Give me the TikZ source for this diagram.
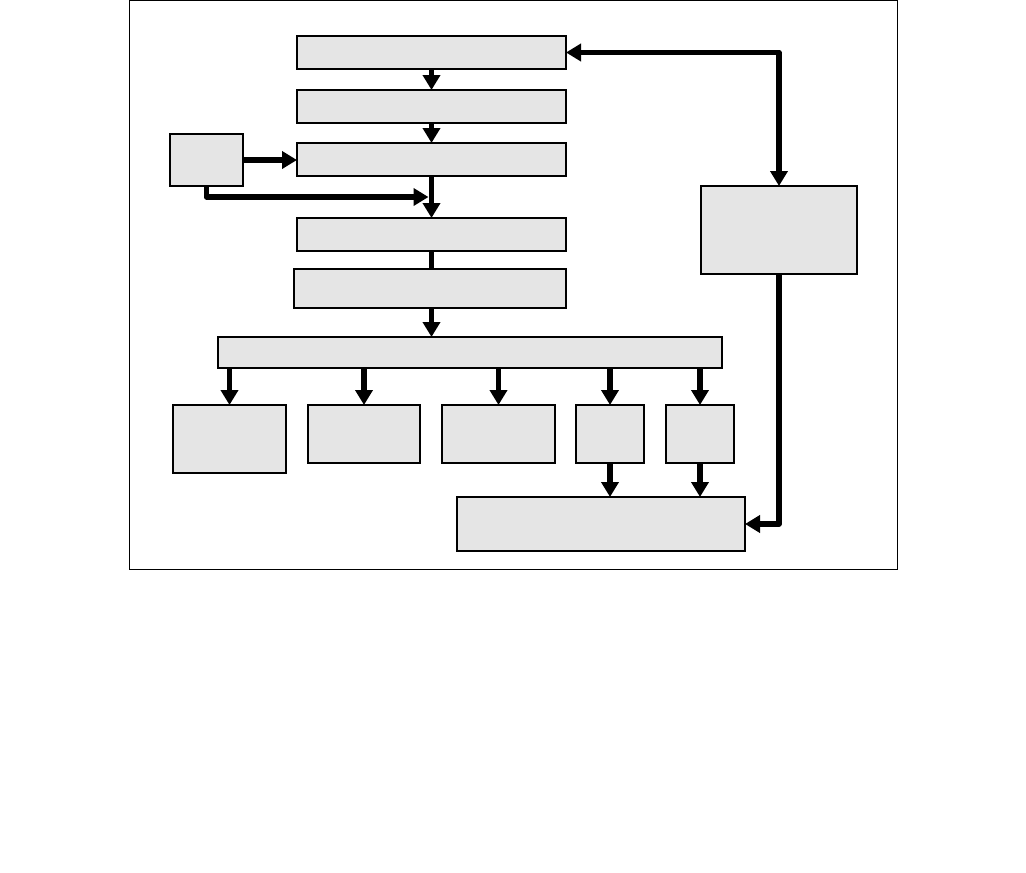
\documentclass[tikz,border=0pt]{standalone}
\usetikzlibrary{arrows.meta,calc}
\definecolor{boxgray}{HTML}{E5E5E5}
\begin{document}
\begin{tikzpicture}[x=1pt,y=-1pt,
  box/.style={draw=black,fill=boxgray,line width=1.6pt,inner sep=0pt,outer sep=0pt,anchor=north west},
  arr/.style={line width=5.5pt,line join=round,-{Triangle[width=17pt,length=15pt]}},
  arrboth/.style={line width=5.5pt,line join=round,{Triangle[width=17pt,length=15pt]}-{Triangle[width=17pt,length=15pt]}},
  plain/.style={line width=5.5pt}]
\useasboundingbox (0,0) rectangle (1026,873);
\draw[line width=1pt] (129,0.5) rectangle (897,569);
% main column
\node[box,minimum width=269pt,minimum height=33pt] (A) at (297,36) {};
\node[box,minimum width=269pt,minimum height=33pt] (B) at (297,90) {};
\node[box,minimum width=269pt,minimum height=33pt] (C) at (297,143) {};
\node[box,minimum width=73pt,minimum height=52pt] (S) at (170,134) {};
\node[box,minimum width=269pt,minimum height=33pt] (D) at (297,218) {};
\node[box,minimum width=272pt,minimum height=39pt] (E) at (294,269) {};
\node[box,minimum width=504pt,minimum height=31pt] (F) at (218,337) {};
% children
\node[box,minimum width=113pt,minimum height=68pt] (G1) at (173,405) {};
\node[box,minimum width=112pt,minimum height=58pt] (G2) at (308,405) {};
\node[box,minimum width=113pt,minimum height=58pt] (G3) at (442,405) {};
\node[box,minimum width=68pt,minimum height=58pt] (G4) at (576,405) {};
\node[box,minimum width=68pt,minimum height=58pt] (G5) at (666,405) {};
\node[box,minimum width=288pt,minimum height=54pt] (H) at (457,497) {};
\node[box,minimum width=156pt,minimum height=88pt] (R) at (701,186) {};
% connectors
\draw[arr] (A.south) -- (B.north);
\draw[arr] (B.south) -- (C.north);
\draw[arr] (S.east) -- (S.east -| C.west);
\draw[arr] (C.south) -- (D.north);
\coordinate (m) at ($(C.south)!0.5!(D.north)$);
\draw[arr] (S.south) |- ([xshift=-3pt]m);
\draw[plain] (D.south) -- (D.south |- E.north);
\draw[arr] (D.south |- E.south) -- (D.south |- F.north);
\draw[arr] (F.south -| G1.north) -- (G1.north);
\draw[arr] (F.south -| G2.north) -- (G2.north);
\draw[arr] (F.south -| G3.north) -- (G3.north);
\draw[arr] (F.south -| G4.north) -- (G4.north);
\draw[arr] (F.south -| G5.north) -- (G5.north);
\draw[arr] (G4.south) -- (G4.south |- H.north);
\draw[arr] (G5.south) -- (G5.south |- H.north);
\draw[arrboth] (A.east) -| (R.north);
\draw[arr] (R.south) |- (H.east);
\end{tikzpicture}
\end{document}
